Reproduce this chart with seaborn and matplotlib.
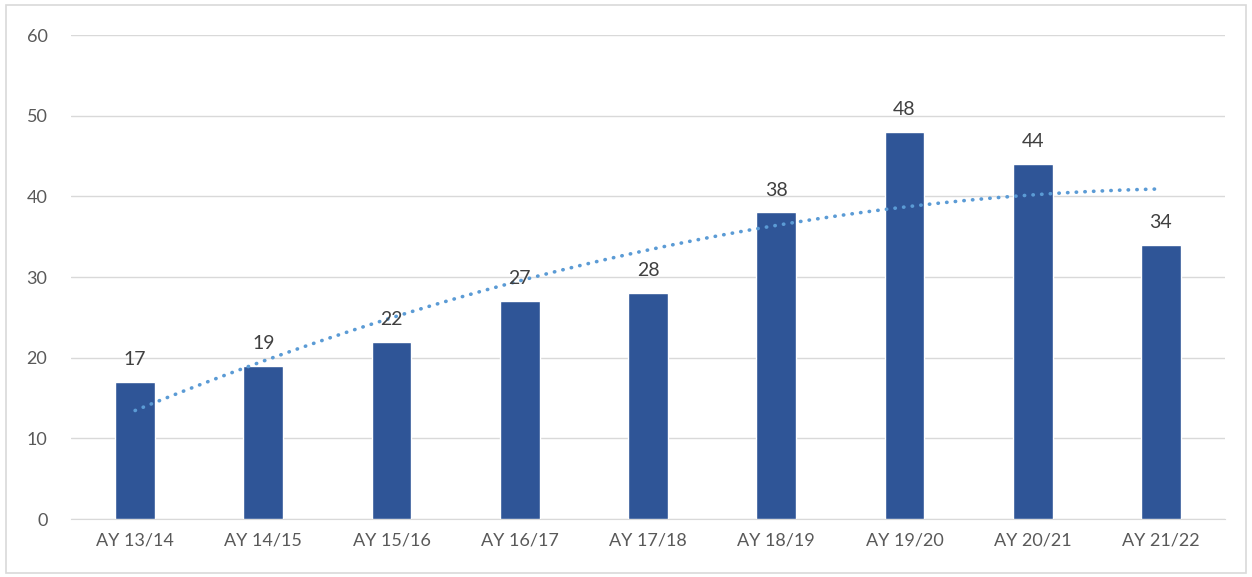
import numpy as np
import pandas as pd
import matplotlib
matplotlib.use("Agg")
import matplotlib.pyplot as plt
import seaborn as sns
from matplotlib.patches import Rectangle

# chart data
years = ["AY 13/14", "AY 14/15", "AY 15/16", "AY 16/17", "AY 17/18",
         "AY 18/19", "AY 19/20", "AY 20/21", "AY 21/22"]
counts = [17, 19, 22, 27, 28, 38, 48, 44, 34]

df = pd.DataFrame({"Year": years, "Count": counts})

sns.set_style("white")
plt.rcParams["font.family"] = ["Lato", "DejaVu Sans"]

W, H = 1252, 577
fig = plt.figure(figsize=(W / 100, H / 100), dpi=100)
ax = fig.add_axes([71 / W, 1 - 519 / H, (1225 - 71) / W, (519 - 35) / H])

sns.barplot(data=df, x="Year", y="Count", color="#2F5597", width=0.31,
            saturation=1, ax=ax, zorder=3)

# polynomial (order 2) trendline, like Excel's
sns.regplot(x=np.arange(len(counts)), y=np.array(counts, dtype=float), order=2,
            scatter=False, ci=None, ax=ax,
            line_kws=dict(color="#5B9BD5", ls=(0, (0.1, 2.3)), lw=2.6,
                          dash_capstyle="round", zorder=4))

# data labels above bars
for i, v in enumerate(counts):
    ax.annotate(str(v), (i, v), xytext=(0, 10), textcoords="offset points",
                ha="center", va="bottom", fontsize=14, color="#404040", zorder=5)

ax.set_ylim(0, 60)
ax.set_xlim(-0.5, len(counts) - 0.5)
ax.set_yticks(range(0, 61, 10))
ax.yaxis.grid(True, color="#D9D9D9", lw=1)
ax.set_axisbelow(True)
ax.set_xlabel("")
ax.set_ylabel("")
for s in ["top", "right", "left"]:
    ax.spines[s].set_visible(False)
ax.spines["bottom"].set_color("#D9D9D9")
ax.tick_params(axis="both", length=0, labelsize=13, labelcolor="#595959")
ax.tick_params(axis="y", pad=17)
ax.tick_params(axis="x", pad=10)

# chart border
fig.patches.append(Rectangle((6 / W, 4 / H), 1 - 12 / W, 1 - 9 / H,
                             transform=fig.transFigure,
                             fill=False, edgecolor="#D9D9D9", lw=1.2))

fig.savefig("out.png", dpi=100)
